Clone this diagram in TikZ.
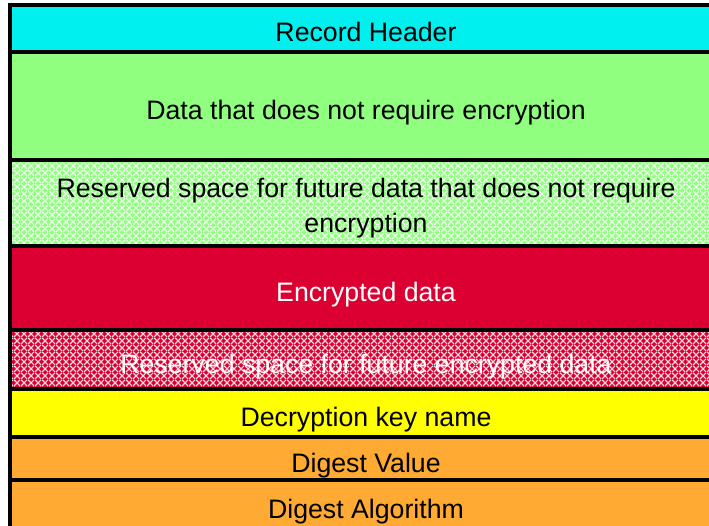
\documentclass[tikz,border=0pt]{standalone}
\usepackage{fontspec}
\setmainfont{Liberation Sans}
\usetikzlibrary{patterns.meta}
\definecolor{hdrcyan}{RGB}{0,240,240}
\definecolor{plaingreen}{RGB}{144,255,128}
\definecolor{encred}{RGB}{220,0,50}
\definecolor{keyyellow}{RGB}{255,255,0}
\definecolor{digorange}{RGB}{255,170,50}
\tikzdeclarepattern{
  name=lattice,
  type=uncolored,
  bounding box={(0pt,0pt) and (7pt,7pt)},
  tile size={(7pt,7pt)},
  code={\draw[line width=1.3pt] (0pt,0pt) -- (7pt,7pt) (0pt,7pt) -- (7pt,0pt);}
}
\tikzset{
  rowbox/.style={draw=black, line width=4pt, minimum width=712pt, outer sep=0pt,
    anchor=north west, inner sep=0pt, align=center,
    text height=27pt, text depth=0pt,
    font=\fontsize{26.7}{35}\selectfont},
  dottedfill/.style={preaction={fill=#1}, pattern={lattice}, pattern color=white!85!#1},
}
\begin{document}
\begin{tikzpicture}[x=1pt,y=1pt]
\useasboundingbox (0,0) rectangle (709,-526);
\clip (0,0) rectangle (709,-526);
\node[rowbox, fill=hdrcyan, minimum height=47pt] (hdr) at (10,-5) {Record Header};
\node[rowbox, fill=plaingreen, minimum height=108pt] (plain) at (10,-52) {Data that does not require encryption};
\node[rowbox, dottedfill=plaingreen, minimum height=86pt, text height=59pt] (plainres) at (10,-160) {Reserved space for future data that does not require\\encryption};
\node[rowbox, fill=encred, text=white, minimum height=84pt] (enc) at (10,-246) {Encrypted data};
\node[rowbox, dottedfill=encred, text=white, minimum height=59pt] (encres) at (10,-330) {Reserved space for future encrypted data};
\node[rowbox, fill=keyyellow, minimum height=48pt] (key) at (10,-389) {Decryption key name};
\node[rowbox, fill=digorange, minimum height=43pt] (dval) at (10,-437) {Digest Value};
\node[rowbox, fill=digorange, minimum height=49pt] (dalg) at (10,-480) {Digest Algorithm};
\end{tikzpicture}
\end{document}
